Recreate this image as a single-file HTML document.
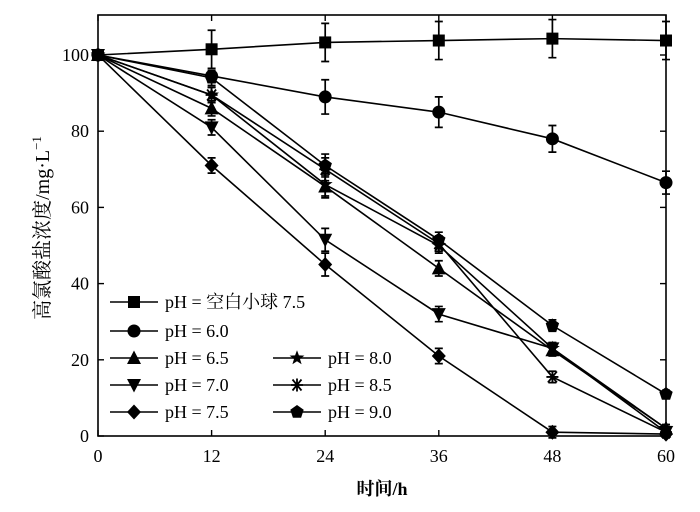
<!DOCTYPE html>
<html><head><meta charset="utf-8"><style>
body{margin:0;background:#fff}
svg text{font-family:"Liberation Serif","Noto Serif CJK SC",serif;fill:#000}
</style></head><body>
<svg id="chart" width="700" height="507"></svg>
<script>
const times=[0,12,24,36,48,60];
const seriesNames=["pH = 空白小球 7.5","pH = 6.0","pH = 6.5","pH = 7.0","pH = 7.5","pH = 8.0","pH = 8.5","pH = 9.0"];
const blankVals=[100,101.5,103.3,103.8,104.3,103.8];
const ph60Vals=[100,94.5,89,85,78,66.5];
const ph65Vals=[100,86,65.5,44,22.5,2];
const ph70Vals=[100,81,51.5,32,23,1];
const ph75Vals=[100,71,45,21,1,0.5];
const ph80Vals=[100,89.5,66,50,23,2];
const ph85Vals=[100,89.5,70,50.5,15.5,1];
const ph90Vals=[100,94,71,51.5,29,11];
const blankErr=[0,5,5,5,5,5];
const ph60Err=[0,0,4.5,4,3.5,3];
const smallErr=[0,2,3,2,1.5,1];
const yTicks=[0,20,40,60,80,100];
const xTicks=[0,12,24,36,48,60];

const allVals=[blankVals,ph60Vals,ph65Vals,ph70Vals,ph75Vals,ph80Vals,ph85Vals,ph90Vals];
const allErr=[blankErr,ph60Err,smallErr,smallErr,smallErr,smallErr,smallErr,smallErr];
const markers=["square","circle","tri","tridown","diamond","star","asterisk","pentagon"];
const NS="http://www.w3.org/2000/svg";
const svg=document.getElementById('chart');
const L=98,R=666,T=15,B=436;
const xs=v=>L+(v-0)/60*(R-L);
const ys=v=>B-(v/100)*(B-55);
function mk(tag,attrs,parent){const e=document.createElementNS(NS,tag);for(const k in attrs)e.setAttribute(k,attrs[k]);(parent||svg).appendChild(e);return e;}
function marker(type,x,y,g){
  let e;const s=1.2;
  if(type==="square")e=mk('rect',{x:x-6,y:y-6,width:12,height:12,fill:'#000'},g);
  else if(type==="circle")e=mk('circle',{cx:x,cy:y,r:6.5,fill:'#000'},g);
  else if(type==="tri")e=mk('polygon',{points:`${x},${y-7.5} ${x+7},${y+6} ${x-7},${y+6}`,fill:'#000'},g);
  else if(type==="tridown")e=mk('polygon',{points:`${x},${y+7.5} ${x+7},${y-6} ${x-7},${y-6}`,fill:'#000'},g);
  else if(type==="diamond")e=mk('polygon',{points:`${x},${y-7.5} ${x+7},${y} ${x},${y+7.5} ${x-7},${y}`,fill:'#000'},g);
  else if(type==="pentagon"){let p=[];for(let i=0;i<5;i++){const a=-Math.PI/2+i*2*Math.PI/5;p.push((x+7*Math.cos(a)).toFixed(1)+','+(y+7*Math.sin(a)).toFixed(1));}e=mk('polygon',{points:p.join(' '),fill:'#000'},g);}
  else if(type==="star"){let p=[];for(let i=0;i<10;i++){const a=-Math.PI/2+i*Math.PI/5,r=i%2?3.2:7.8;p.push((x+r*Math.cos(a)).toFixed(1)+','+(y+r*Math.sin(a)).toFixed(1));}e=mk('polygon',{points:p.join(' '),fill:'#000'},g);}
  else {e=mk('path',{d:`M${x-6},${y}H${x+6}M${x-4.5},${y-5.5}L${x+4.5},${y+5.5}M${x+4.5},${y-5.5}L${x-4.5},${y+5.5}M${x},${y-6.5}V${y+6.5}`,stroke:'#000','stroke-width':1.8,fill:'none'},g);}
  return e;
}
const frame=mk('rect',{x:L,y:T,width:R-L,height:B-T,fill:'none',stroke:'#000','stroke-width':1.6});


yTicks.forEach(v=>{
  const t=mk('line',{x1:L,x2:L+6,y1:ys(v),y2:ys(v),stroke:'#000','stroke-width':1.4});
  
  
  const t2=mk('line',{x1:R,x2:R-6,y1:ys(v),y2:ys(v),stroke:'#000','stroke-width':1.4});
  
  
  const lb=mk('text',{x:L-9,y:ys(v)+6,'text-anchor':'end','font-size':18});
  lb.textContent=v;
  
  
});
xTicks.forEach(v=>{
  const t=mk('line',{x1:xs(v),x2:xs(v),y1:B,y2:B-6,stroke:'#000','stroke-width':1.4});
  
  
  const t2=mk('line',{x1:xs(v),x2:xs(v),y1:T,y2:T+6,stroke:'#000','stroke-width':1.4});
  
  
  const lb=mk('text',{x:xs(v),y:B+26,'text-anchor':'middle','font-size':18});
  lb.textContent=v;
  
  
});
const xt=mk('text',{x:(L+R)/2,y:495,'text-anchor':'middle','font-size':18,'font-weight':'bold'});
xt.textContent='时间/h';


const yt=mk('text',{x:0,y:0,'text-anchor':'middle','font-size':20,transform:'translate(49,228) rotate(-90)'});
yt.innerHTML='高氯酸盐浓度/mg·L<tspan dy="-8" font-size="13">−1</tspan>';


allVals.forEach((vals,si)=>{
  const g=mk('g',{});
  
  
  mk('polyline',{points:times.map((t,i)=>xs(t)+','+ys(vals[i])).join(' '),fill:'none',stroke:'#000','stroke-width':1.6},g);
  times.forEach((t,i)=>{
    const e=allErr[si][i];
    if(e>0){
      const x=xs(t);
      mk('path',{d:`M${x},${ys(vals[i]-e)}V${ys(vals[i]+e)}M${x-4},${ys(vals[i]-e)}H${x+4}M${x-4},${ys(vals[i]+e)}H${x+4}`,stroke:'#000','stroke-width':1.7,fill:'none'},g);
    }
    const m=marker(markers[si],xs(t),ys(vals[i]),g);
    
    
  });
});
const legPos=[[110,302],[110,331],[110,358],[110,385],[110,412],[273,358],[273,385],[273,412]];
seriesNames.forEach((n,i)=>{
  const [x,y]=legPos[i];
  const g=mk('g',{});
  
  
  mk('line',{x1:x,x2:x+48,y1:y,y2:y,stroke:'#000','stroke-width':1.6},g);
  marker(markers[i],x+24,y,g);
  const t=mk('text',{x:x+55,y:y+6,'font-size':18},g);
  t.textContent=n;
});
</script>
</body></html>
